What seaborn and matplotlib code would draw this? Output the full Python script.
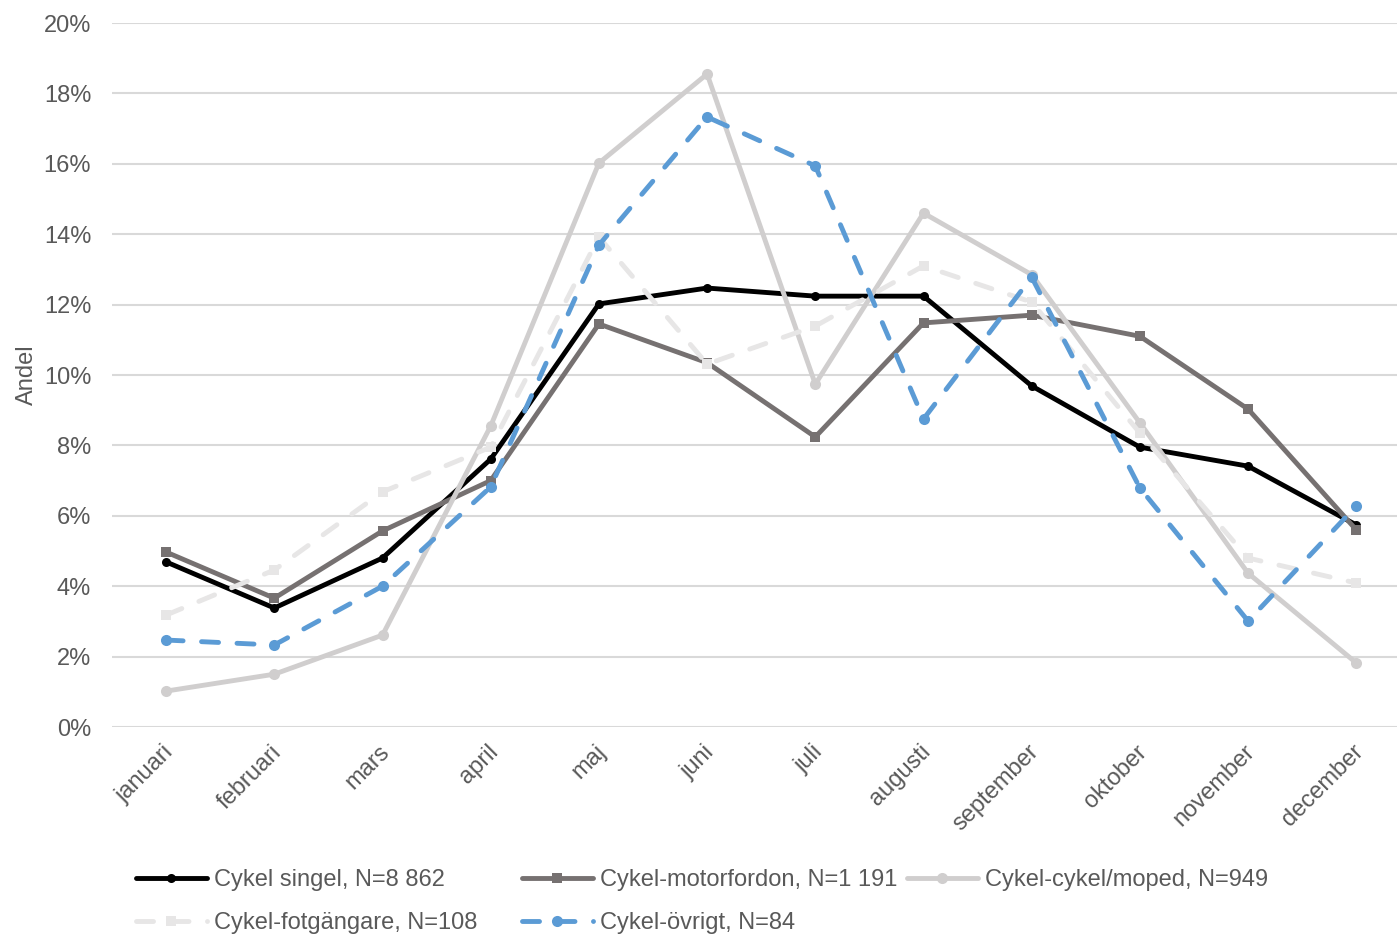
import numpy as np
import matplotlib
matplotlib.use("Agg")
import matplotlib.pyplot as plt
import matplotlib.transforms as mtrans
import seaborn as sns

months = ["januari", "februari", "mars", "april", "maj", "juni", "juli",
          "augusti", "september", "oktober", "november", "december"]

singel = [4.69, 3.38, 4.80, 7.61, 12.02, 12.47, 12.24, 12.24, 9.69, 7.95, 7.41, 5.74]
motorfordon = [4.97, 3.66, 5.57, 7.00, 11.45, 10.35, 8.24, 11.48, 11.70, 11.10, 9.03, 5.60]
cykelmoped = [1.02, 1.50, 2.61, 8.55, 16.02, 18.55, 9.74, 14.60, 12.85, 8.64, 4.37, 1.82]
fotgangare = [3.18, 4.46, 6.68, 7.95, 13.92, 10.31, 11.39, 13.10, 12.07, 8.35, 4.80, 4.09]
ovrigt = [2.47, 2.33, 4.00, 6.82, 13.69, 17.33, 15.94, 8.75, 12.78, 6.79, 3.01, 6.28]

labels = ["Cykel singel, N=8 862", "Cykel-motorfordon, N=1 191", "Cykel-cykel/moped, N=949",
          "Cykel-fotgängare, N=108", "Cykel-övrigt, N=84"]

sns.set_theme(style="white")
plt.rcParams['font.family'] = ['Liberation Sans', 'DejaVu Sans']
fs = 17
txtcol = "#595959"

fig = plt.figure(figsize=(13.97, 9.34), dpi=100)
ax = fig.add_axes([112/1397, (934-727)/934, (1397-112)/1397, (727-23)/934])

x = np.arange(len(months))
styles = [
    (singel, "#000000", "o", 6.5, "-", labels[0]),
    (motorfordon, "#767171", "s", 7, "-", labels[1]),
    (cykelmoped, "#D0CECE", "o", 8, "-", labels[2]),
    (fotgangare, "#E7E6E6", "s", 7, "--", labels[3]),
    (ovrigt, "#5B9BD5", "o", 8, "--", labels[4]),
]
handles = []
for vals, col, mk, ms, ls, lab in styles:
    kw = dict(color=col, marker=mk, markersize=ms, linewidth=3.5, markeredgewidth=0,
              label=lab, ax=ax, solid_capstyle="round")
    if ls == "--":
        kw.update(linestyle=(0, (3.5, 3.8)), dash_capstyle="round")
    sns.lineplot(x=x, y=vals, **kw)
    handles.append(ax.get_lines()[-1])

ax.set_ylim(0, 20)
ax.set_xlim(-0.5, -0.5 + 1285/108.2)
ax.set_yticks(np.arange(0, 21, 2))
ax.set_yticklabels([f"{v}%" for v in range(0, 21, 2)], fontsize=fs, color=txtcol)
ax.set_xticks(x)
ax.set_xticklabels(months, fontsize=fs, color=txtcol, rotation=45,
                   ha="right", va="top", rotation_mode="anchor")
ax.tick_params(axis="x", length=0, pad=10)
ax.tick_params(axis="y", length=0, pad=15)
off = mtrans.ScaledTranslation(-4/100, 0, fig.dpi_scale_trans)
for lbl in ax.get_xticklabels():
    lbl.set_transform(lbl.get_transform() + off)
ax.set_ylabel("Andel", fontsize=fs, color=txtcol)
ax.yaxis.set_label_coords(-0.058, 0.5)
ax.grid(axis="y", color="#D9D9D9", linewidth=1.5)
ax.grid(axis="x", visible=False)
for s in ax.spines.values():
    s.set_visible(False)
if ax.get_legend():
    ax.get_legend().remove()

legkw = dict(loc="upper left", frameon=False, fontsize=fs, handlelength=3.0,
             handletextpad=0.3, labelspacing=0.9, borderaxespad=0, borderpad=0,
             labelcolor=txtcol)
ytop = 1 - 869/934
fig.legend(handles=[handles[0], handles[3]], labels=[labels[0], labels[3]],
           bbox_to_anchor=(136/1397, ytop), **legkw)
fig.legend(handles=[handles[1], handles[4]], labels=[labels[1], labels[4]],
           bbox_to_anchor=(522/1397, ytop), **legkw)
fig.legend(handles=[handles[2]], labels=[labels[2]],
           bbox_to_anchor=(907/1397, ytop), **legkw)

fig.savefig("out.png", dpi=100)
